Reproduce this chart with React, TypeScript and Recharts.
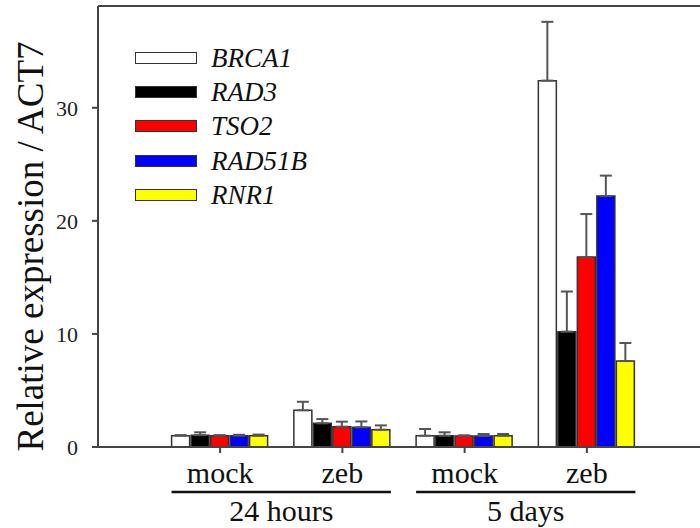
import React from 'react';
import {
  BarChart,
  Bar,
  XAxis,
  YAxis,
  ErrorBar,
  Legend,
  ReferenceLine
} from 'recharts';

// treatment per time point, and the two time points
const categories = ['mock', 'zeb', 'mock', 'zeb'];
const groups = ['24 hours', '5 days'];

const genes = ['BRCA1', 'RAD3', 'TSO2', 'RAD51B', 'RNR1'];
const geneColors = ['#ffffff', '#000000', '#ff0000', '#0000ff', '#ffff00'];

// mean relative expression (one value per category)
const brca1 = [1.0, 3.24, 1.0, 32.4];
const rad3 = [1.05, 2.09, 1.0, 10.2];
const tso2 = [1.0, 1.8, 0.98, 16.8];
const rad51b = [1.0, 1.74, 0.98, 22.2];
const rnr1 = [1.0, 1.53, 1.0, 7.6];

// upper error (only the upper whisker is drawn in the figure)
const brca1Err = [0.05, 0.76, 0.59, 5.2];
const rad3Err = [0.25, 0.38, 0.3, 3.55];
const tso2Err = [0.05, 0.44, 0.05, 3.8];
const rad51bErr = [0.08, 0.52, 0.17, 1.8];
const rnr1Err = [0.1, 0.38, 0.15, 1.6];

const yTicks = [0, 10, 20, 30];

const means = [brca1, rad3, tso2, rad51b, rnr1];
const errs = [brca1Err, rad3Err, tso2Err, rad51bErr, rnr1Err];

const data = categories.map((cat, i) => {
  const row: Record<string, any> = { cat };
  genes.forEach((g, k) => {
    row[g] = means[k][i];
    row[g + '_err'] = [0, errs[k][i]];
  });
  return row;
});

const FONT = '"Liberation Serif", "Times New Roman", serif';
const AXIS = '#444';
const CAT_GAP = 12.6;

function CategoryTick(props: any) {
  const { x, y, payload, index } = props;
  const half = payload?.offset ?? 61;
  const isFirst = index % 2 === 0;
  return (
    <g>
      <text x={x} y={y + 28} textAnchor="middle" fontSize={30} fontFamily={FONT} fill="#111">
        {payload.value}
      </text>
      {isFirst && (
        <>
          <line
            x1={x - half + CAT_GAP}
            x2={x + 3 * half - CAT_GAP}
            y1={y + 37}
            y2={y + 37}
            stroke="#111"
            strokeWidth={2.5}
          />
          <text x={x + half} y={y + 66} textAnchor="middle" fontSize={30} fontFamily={FONT} fill="#111">
            {groups[index / 2]}
          </text>
        </>
      )}
    </g>
  );
}

function YLabel(props: any) {
  const { viewBox } = props;
  const cx = 43;
  const cy = viewBox.y + viewBox.height / 2 + 20;
  return (
    <text
      x={cx}
      y={cy}
      transform={`rotate(-90, ${cx}, ${cy})`}
      textAnchor="middle"
      fontSize={37}
      fontFamily={FONT}
      fill="#111"
    >
      Relative expression / ACT7
    </text>
  );
}

// legend keeps the series order (the built-in payload comes sorted by name)
function GeneLegend() {
  return (
    <div style={{ fontFamily: FONT }}>
      {genes.map((g, i) => (
        <div key={g} style={{ display: 'flex', alignItems: 'center', height: 34.2 }}>
          <div
            style={{
              width: 60,
              height: 10,
              background: geneColors[i],
              border: '1.5px solid #333',
              marginRight: 14
            }}
          />
          <span style={{ fontStyle: 'italic', fontSize: 27, color: '#111', lineHeight: '34px' }}>
            {g}
          </span>
        </div>
      ))}
    </div>
  );
}

export default function App() {
  return (
    <div style={{ position: 'absolute', left: 0, top: 0, width: 700, height: 528, background: '#fff' }}>
      <BarChart
        width={700}
        height={528}
        data={data}
        margin={{ top: 6, right: 0, left: 0, bottom: 0 }}
        barCategoryGap={CAT_GAP}
        barGap={1.5}
      >
        <XAxis
          dataKey="cat"
          height={81}
          padding={{ left: 61, right: 52 }}
          axisLine={{ stroke: AXIS, strokeWidth: 2 }}
          tickLine={{ stroke: AXIS, strokeWidth: 2 }}
          tickSize={6}
          tickMargin={2}
          tick={<CategoryTick />}
          interval={0}
        />
        <YAxis
          width={98}
          domain={[0, 39]}
          ticks={yTicks}
          allowDataOverflow
          axisLine={{ stroke: AXIS, strokeWidth: 2 }}
          tickLine={{ stroke: AXIS, strokeWidth: 2 }}
          tickSize={6}
          tickMargin={14}
          tick={{ fontSize: 22, fill: '#222', fontFamily: FONT }}
          label={<YLabel />}
        />
        <ReferenceLine y={39} stroke={AXIS} strokeWidth={2} />
        <Legend
          layout="vertical"
          align="center"
          verticalAlign="middle"
          content={<GeneLegend />}
          wrapperStyle={{ left: 135, top: 41, width: 'auto', height: 'auto' }}
        />
        {genes.map((g, k) => (
          <Bar
            key={g}
            dataKey={g}
            name={g}
            fill={geneColors[k]}
            stroke="#333"
            strokeWidth={1.5}
            isAnimationActive={false}
          >
            <ErrorBar dataKey={g + '_err'} width={6} stroke="#555" strokeWidth={2} direction="y" />
          </Bar>
        ))}
      </BarChart>
    </div>
  );
}
